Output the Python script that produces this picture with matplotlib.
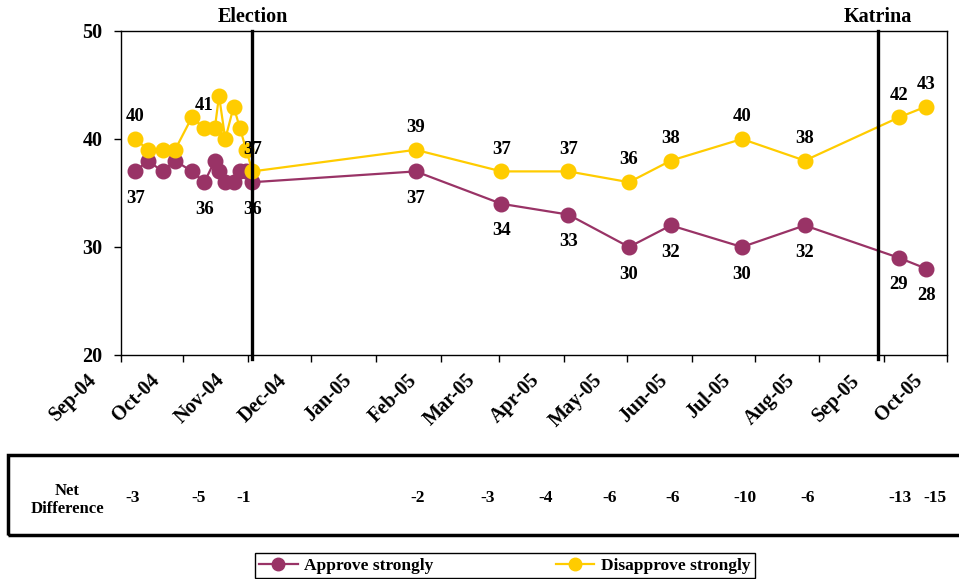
import numpy as np
import pandas as pd
import matplotlib
matplotlib.use('Agg')
import matplotlib.pyplot as plt
import matplotlib.dates as mdates
import matplotlib.transforms as mtransforms
from matplotlib.patches import Rectangle
from matplotlib.lines import Line2D

plt.rcParams['font.family'] = ['Liberation Serif', 'DejaVu Serif']
plt.rcParams['font.weight'] = 'bold'

# poll dates and values
dates = pd.to_datetime([
    '2004-09-08', '2004-09-14', '2004-09-21', '2004-09-27', '2004-10-05',
    '2004-10-11', '2004-10-16', '2004-10-18', '2004-10-21', '2004-10-25',
    '2004-10-28', '2004-10-31', '2004-11-03',
    '2005-01-20', '2005-03-02', '2005-04-03', '2005-05-02', '2005-05-22',
    '2005-06-25', '2005-07-25', '2005-09-08', '2005-09-21'])
approve = [37, 38, 37, 38, 37, 36, 38, 37, 36, 36, 37, 37, 36,
           37, 34, 33, 30, 32, 30, 32, 29, 28]
disapprove = [40, 39, 39, 39, 42, 41, 41, 44, 40, 43, 41, 39, 37,
              39, 37, 37, 36, 38, 40, 38, 42, 43]
labelled = [0, 5, 12, 13, 14, 15, 16, 17, 18, 19, 20, 21]

events = ['Election', 'Katrina']
event_dates = pd.to_datetime(['2004-11-03', '2005-08-29'])

net_diff = ['-3', '-5', '-1', '-2', '-3', '-4', '-6', '-6', '-10', '-6', '-13', '-15']
net_col_px = [133, 199, 244, 418, 488, 546, 610, 673, 745, 808, 900, 935]

purple = '#993366'
yellow = '#FFCC00'
W, H = 959, 579

fig = plt.figure(figsize=(W / 100, H / 100), dpi=100)
ax = fig.add_axes([120.7 / W, 1 - 355 / H, (947 - 120.7) / W, (355 - 31) / H])

ax.plot(dates, approve, color=purple, lw=1.6, marker='o', ms=10.5, zorder=3)
ax.plot(dates, disapprove, color=yellow, lw=1.6, marker='o', ms=10.5, zorder=4)

for i in labelled:
    ax.annotate(str(disapprove[i]), (dates[i], disapprove[i]), xytext=(0, 16),
                textcoords='offset points', ha='center', va='center',
                fontsize=13.5, zorder=6)
    ax.annotate(str(approve[i]), (dates[i], approve[i]), xytext=(0, -19.5),
                textcoords='offset points', ha='center', va='center',
                fontsize=13.5, zorder=6)

for name, d in zip(events, event_dates):
    ax.axvline(d, ymin=-0.012, ymax=1, color='black', lw=2.4, clip_on=False, zorder=5)
    ax.annotate(name, (d, 50), xytext=(0, 3), textcoords='offset points',
                ha='center', va='bottom', fontsize=14.5)

ax.set_ylim(20, 50)
ax.set_yticks([20, 30, 40, 50])
ax.set_xlim(pd.Timestamp('2004-09-01'), pd.Timestamp('2005-10-01'))
ax.xaxis.set_major_locator(mdates.MonthLocator())
ax.xaxis.set_major_formatter(mdates.DateFormatter('%b-%y'))

ax.tick_params(axis='y', length=5, width=1, pad=8, labelsize=14.5)
ax.tick_params(axis='x', length=5, width=1, pad=6, labelsize=14.5)
for s in ax.spines.values():
    s.set_linewidth(1)

shift = mtransforms.ScaledTranslation(-0.2, 0, fig.dpi_scale_trans)
for lab in ax.get_xticklabels():
    lab.set_rotation(45)
    lab.set_ha('right')
    lab.set_transform(lab.get_transform() + shift)

# net difference table under the chart
fig.patches.append(Rectangle((8 / W, 1 - 535 / H), 980 / W, 80 / H,
                             transform=fig.transFigure, fill=False,
                             lw=2.5, edgecolor='black', clip_on=False))
fig.text(67 / W, 1 - 500 / H, 'Net\nDifference', ha='center', va='center',
         fontsize=12, linespacing=1.15)
for txt, px in zip(net_diff, net_col_px):
    fig.text(px / W, 1 - 498 / H, txt, ha='center', va='center', fontsize=12.5)

handles = [Line2D([], [], color=purple, lw=1.6, marker='o', ms=9),
           Line2D([], [], color=yellow, lw=1.6, marker='o', ms=9)]
fig.legend(handles, ['Approve strongly', 'Disapprove strongly'],
           loc='lower left', bbox_to_anchor=(255 / W, 1 - 578 / H, 500 / W, 30 / H),
           mode='expand', ncol=2, fancybox=False, edgecolor='black',
           fontsize=12.5, borderaxespad=0, handlelength=2.2, handletextpad=0.4,
           borderpad=0.25, framealpha=1)

fig.savefig('out.png', dpi=100)
